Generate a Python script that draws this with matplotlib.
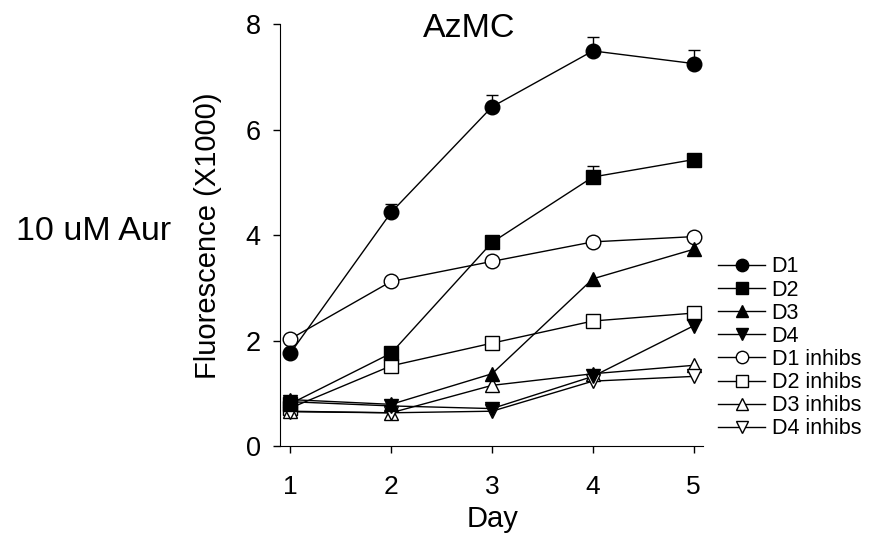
import matplotlib
matplotlib.use("Agg")
import matplotlib.pyplot as plt

plt.rcParams['font.family'] = ['Liberation Sans', 'DejaVu Sans']

days = [1, 2, 3, 4, 5]

d1 = [1.76, 4.43, 6.43, 7.49, 7.25]
d1_err = [0.05, 0.15, 0.23, 0.26, 0.26]
d2 = [0.80, 1.76, 3.86, 5.10, 5.43]
d2_err = [0.03, 0.05, 0.05, 0.21, 0.05]
d3 = [0.88, 0.79, 1.37, 3.17, 3.73]
d4 = [0.84, 0.76, 0.71, 1.32, 2.28]
d1_inh = [2.03, 3.12, 3.50, 3.87, 3.97]
d2_inh = [0.72, 1.52, 1.95, 2.37, 2.52]
d3_inh = [0.66, 0.63, 1.15, 1.37, 1.53]
d4_inh = [0.65, 0.63, 0.66, 1.23, 1.32]

labels = ["D1", "D2", "D3", "D4", "D1 inhibs", "D2 inhibs", "D3 inhibs", "D4 inhibs"]

fig = plt.figure(figsize=(8.73, 5.47), dpi=100)
ax = fig.add_axes([0.3204, 0.1846, 0.4849, 0.7715])

# error bars (upper only) for filled series
for vals, err in [(d1, d1_err), (d2, d2_err)]:
    ax.errorbar(days, vals, yerr=[[0] * len(err), err], fmt='none', ecolor='black',
                elinewidth=1, capsize=4.5, capthick=1, zorder=1)

# open series first so the filled markers sit on top
series = [
    (d1_inh, 'o', 'white', 10.5),
    (d2_inh, 's', 'white', 9.5),
    (d3_inh, '^', 'white', 10.5),
    (d4_inh, 'v', 'white', 10.5),
    (d1, 'o', 'black', 10.5),
    (d2, 's', 'black', 9.5),
    (d3, '^', 'black', 10.5),
    (d4, 'v', 'black', 10.5),
]

for vals, m, fc, ms in series:
    ax.plot(days, vals, color='black', lw=1, zorder=2)
for vals, m, fc, ms in series:
    ax.plot(days, vals, ls='none', marker=m, ms=ms, mfc=fc, mec='black', mew=1, zorder=3)

# legend handles
order = [4, 5, 6, 7, 0, 1, 2, 3]
handles = []
for i in order:
    vals, m, fc, ms = series[i]
    h, = ax.plot([], [], color='black', lw=1, marker=m, ms=ms * 0.85, mfc=fc, mec='black', mew=1)
    handles.append(h)
fig.legend(handles, labels, loc='center left', bbox_to_anchor=(0.8225, 0.364),
           frameon=False, fontsize=15.5, handlelength=2.19, handletextpad=0.3,
           labelspacing=0.1, borderpad=0, borderaxespad=0)

ax.set_xlim(0.895, 5.092)
ax.set_ylim(0, 8)
ax.set_xticks(days)
ax.set_yticks([0, 2, 4, 6, 8])
ax.spines['top'].set_visible(False)
ax.spines['right'].set_visible(False)
ax.tick_params(axis='x', direction='out', length=5, width=1, labelsize=19, pad=16)
ax.tick_params(axis='y', direction='out', length=4.8, width=1, labelsize=19.5, pad=9)

fig.text(0.5647, 0.0371, "Day", fontsize=21, ha='center', va='baseline')
fig.text(0.2388, 0.5695, "Fluorescence (X1000)", fontsize=21, rotation=90,
         ha='center', va='center')
fig.text(0.5372, 0.9318, "AzMC", fontsize=24.5, ha='center', va='baseline')
fig.text(0.1077, 0.562, "10 uM Aur", fontsize=24.5, ha='center', va='baseline')

fig.savefig("out.png", dpi=100)
